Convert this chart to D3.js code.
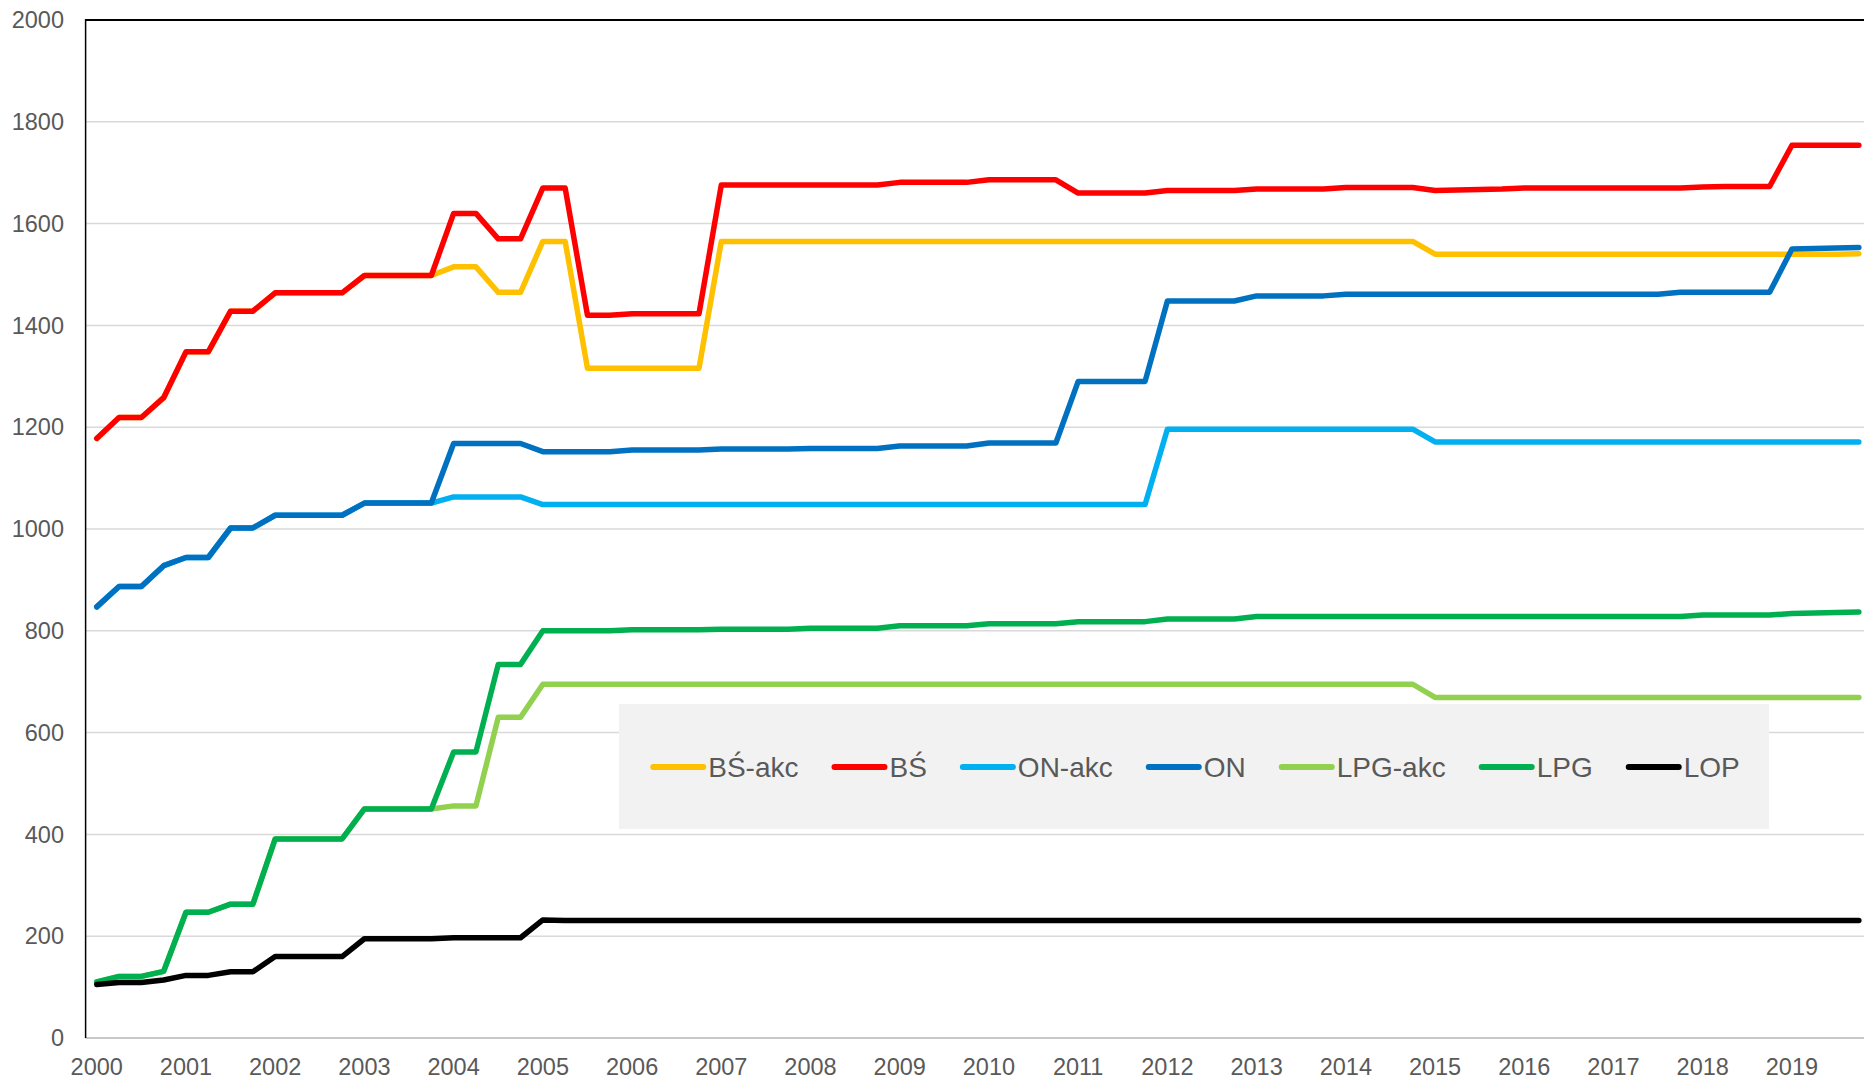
<!DOCTYPE html>
<html>

<head>
    <meta charset="utf-8">
    <title>Ceny paliw</title>
    <script type="text/javascript" src="https://cdn.jsdelivr.net/npm/d3@7"></script>
    <style>
        body { margin: 0; background: #ffffff; }
        text { font-family: "Liberation Sans", Arial, sans-serif; fill: #595959; }
    </style>
</head>

<body>
    <script type="text/javascript">
    /* dane */
    var years = ["2000", "2001", "2002", "2003", "2004", "2005", "2006", "2007", "2008", "2009",
        "2010", "2011", "2012", "2013", "2014", "2015", "2016", "2017", "2018", "2019"];
    var quarters = ["I", "II", "III", "IV"];
    var yTicks = [0, 200, 400, 600, 800, 1000, 1200, 1400, 1600, 1800, 2000];

    var seriesNames = ["BŚ-akc", "BŚ", "ON-akc", "ON", "LPG-akc", "LPG", "LOP"];
    var seriesColors = ["#FFC000", "#FF0000", "#00B0F0", "#0070C0", "#92D050", "#00B050", "#000000"];

    var bsAkc = [1178, 1219, 1219, 1258, 1348, 1348, 1428, 1428, 1464, 1464, 1464, 1464, 1498, 1498, 1498, 1498,
        1515, 1515, 1465, 1465, 1565, 1565, 1316, 1316, 1316, 1316, 1316, 1316, 1565, 1565, 1565, 1565,
        1565, 1565, 1565, 1565, 1565, 1565, 1565, 1565, 1565, 1565, 1565, 1565, 1565, 1565, 1565, 1565,
        1565, 1565, 1565, 1565, 1565, 1565, 1565, 1565, 1565, 1565, 1565, 1565, 1540, 1540, 1540, 1540,
        1540, 1540, 1540, 1540, 1540, 1540, 1540, 1540, 1540, 1540, 1540, 1540, 1540, 1540, 1540, 1541];
    var bs = [1178, 1219, 1219, 1258, 1348, 1348, 1428, 1428, 1464, 1464, 1464, 1464, 1498, 1498, 1498, 1498,
        1620, 1620, 1570, 1570, 1670, 1670, 1420, 1420, 1423, 1423, 1423, 1423, 1676, 1676, 1676, 1676,
        1676, 1676, 1676, 1676, 1681, 1681, 1681, 1681, 1686, 1686, 1686, 1686, 1660, 1660, 1660, 1660,
        1665, 1665, 1665, 1665, 1668, 1668, 1668, 1668, 1671, 1671, 1671, 1671, 1665, 1666, 1667, 1668,
        1670, 1670, 1670, 1670, 1670, 1670, 1670, 1670, 1672, 1673, 1673, 1673, 1754, 1754, 1754, 1754];
    var onAkc = [847, 887, 887, 928, 944, 944, 1002, 1002, 1027, 1027, 1027, 1027, 1051, 1051, 1051, 1051,
        1063, 1063, 1063, 1063, 1048, 1048, 1048, 1048, 1048, 1048, 1048, 1048, 1048, 1048, 1048, 1048,
        1048, 1048, 1048, 1048, 1048, 1048, 1048, 1048, 1048, 1048, 1048, 1048, 1048, 1048, 1048, 1048,
        1196, 1196, 1196, 1196, 1196, 1196, 1196, 1196, 1196, 1196, 1196, 1196, 1171, 1171, 1171, 1171,
        1171, 1171, 1171, 1171, 1171, 1171, 1171, 1171, 1171, 1171, 1171, 1171, 1171, 1171, 1171, 1171];
    var on = [847, 887, 887, 928, 944, 944, 1002, 1002, 1027, 1027, 1027, 1027, 1051, 1051, 1051, 1051,
        1168, 1168, 1168, 1168, 1152, 1152, 1152, 1152, 1155, 1155, 1155, 1155, 1157, 1157, 1157, 1157,
        1158, 1158, 1158, 1158, 1163, 1163, 1163, 1163, 1169, 1169, 1169, 1169, 1290, 1290, 1290, 1290,
        1448, 1448, 1448, 1448, 1458, 1458, 1458, 1458, 1461, 1461, 1461, 1461, 1461, 1461, 1461, 1461,
        1461, 1461, 1461, 1461, 1461, 1461, 1461, 1465, 1465, 1465, 1465, 1465, 1550, 1551, 1552, 1553];
    var lpgAkc = [110, 121, 121, 131, 247, 247, 263, 263, 391, 391, 391, 391, 450, 450, 450, 450,
        456, 456, 630, 630, 695, 695, 695, 695, 695, 695, 695, 695, 695, 695, 695, 695,
        695, 695, 695, 695, 695, 695, 695, 695, 695, 695, 695, 695, 695, 695, 695, 695,
        695, 695, 695, 695, 695, 695, 695, 695, 695, 695, 695, 695, 669, 669, 669, 669,
        669, 669, 669, 669, 669, 669, 669, 669, 669, 669, 669, 669, 669, 669, 669, 669];
    var lpg = [110, 121, 121, 131, 247, 247, 263, 263, 391, 391, 391, 391, 450, 450, 450, 450,
        562, 562, 734, 734, 800, 800, 800, 800, 802, 802, 802, 802, 803, 803, 803, 803,
        805, 805, 805, 805, 810, 810, 810, 810, 814, 814, 814, 814, 818, 818, 818, 818,
        823, 823, 823, 823, 828, 828, 828, 828, 828, 828, 828, 828, 828, 828, 828, 828,
        828, 828, 828, 828, 828, 828, 828, 828, 831, 831, 831, 831, 834, 835, 836, 837];
    var lop = [105, 109, 109, 114, 123, 123, 130, 130, 160, 160, 160, 160, 195, 195, 195, 195,
        197, 197, 197, 197, 232, 231, 231, 231, 231, 231, 231, 231, 231, 231, 231, 231,
        231, 231, 231, 231, 231, 231, 231, 231, 231, 231, 231, 231, 231, 231, 231, 231,
        231, 231, 231, 231, 231, 231, 231, 231, 231, 231, 231, 231, 231, 231, 231, 231,
        231, 231, 231, 231, 231, 231, 231, 231, 231, 231, 231, 231, 231, 231, 231, 231];

    var seriesValues = [bsAkc, bs, onAkc, on, lpgAkc, lpg, lop];

    /* kategorie: kwartaly */
    var categories = [];
    years.forEach(function(y) {
        quarters.forEach(function(q) {
            categories.push(y + " " + q);
        });
    });

    var svgWidth = 1864;
    var svgHeight = 1081;
    var plotLeft = 85.6;
    var plotRight = 1870;
    var plotTop = 20;
    var plotBottom = 1038;

    var svg = d3.select('body').append('svg')
        .attr('width', svgWidth)
        .attr('height', svgHeight);

    var x = d3.scalePoint()
        .domain(categories)
        .range([plotLeft, plotRight])
        .padding(0.5);

    var y = d3.scaleLinear()
        .domain([0, 2000])
        .range([plotBottom, plotTop]);

    /* siatka */
    svg.append('g')
        .selectAll('line')
        .data(yTicks.filter(function(d) { return d > 0 && d < 2000; }))
        .enter()
        .append('line')
        .attr('x1', plotLeft)
        .attr('x2', plotRight)
        .attr('y1', function(d) { return y(d); })
        .attr('y2', function(d) { return y(d); })
        .attr('stroke', '#d9d9d9')
        .attr('stroke-width', 1.5);

    // os 0 (szara) i gorna ramka (czarna)
    svg.append('line')
        .attr('x1', plotLeft).attr('x2', plotRight)
        .attr('y1', y(0)).attr('y2', y(0))
        .attr('stroke', '#c8c8c8').attr('stroke-width', 2);
    svg.append('line')
        .attr('x1', plotLeft).attr('x2', plotRight)
        .attr('y1', y(2000)).attr('y2', y(2000))
        .attr('stroke', '#000000').attr('stroke-width', 2);
    svg.append('line')
        .attr('x1', plotLeft).attr('x2', plotLeft)
        .attr('y1', y(2000) - 1).attr('y2', y(0))
        .attr('stroke', '#000000').attr('stroke-width', 1.5);

    /* etykiety osi Y */
    svg.append('g')
        .selectAll('text')
        .data(yTicks)
        .enter()
        .append('text')
        .text(function(d) { return d; })
        .attr('x', 64)
        .attr('y', function(d) { return y(d); })
        .attr('dy', '0.35em')
        .attr('text-anchor', 'end')
        .attr('font-size', '23.5px');

    /* etykiety osi X (pierwszy kwartal roku) */
    svg.append('g')
        .selectAll('text')
        .data(years)
        .enter()
        .append('text')
        .text(function(d) { return d; })
        .attr('x', function(d) { return x(d + " " + quarters[0]); })
        .attr('y', 1074.5)
        .attr('text-anchor', 'middle')
        .attr('font-size', '23.5px');

    /* linie */
    var line = d3.line()
        .x(function(d, i) { return x(categories[i]); })
        .y(function(d) { return y(d); });

    svg.append('g')
        .selectAll('path')
        .data(seriesValues)
        .enter()
        .append('path')
        .attr('d', function(d) { return line(d); })
        .attr('fill', 'none')
        .attr('stroke', function(d, i) { return seriesColors[i]; })
        .attr('stroke-width', 5.5)
        .attr('stroke-linejoin', 'round')
        .attr('stroke-linecap', 'round');

    /* legenda */
    var legX = 619, legY = 704, legW = 1150, legH = 125;
    svg.append('rect')
        .attr('x', legX).attr('y', legY)
        .attr('width', legW).attr('height', legH)
        .attr('fill', '#f2f2f2');

    var legend = svg.append('g');
    var cursor = 0;
    var sampleLen = 56;
    var itemGap = 33;
    var midY = legY + legH / 2 + 0.5;
    seriesNames.forEach(function(name, i) {
        var item = legend.append('g');
        item.append('line')
            .attr('x1', cursor + 3).attr('x2', cursor + sampleLen - 3)
            .attr('y1', midY).attr('y2', midY)
            .attr('stroke', seriesColors[i])
            .attr('stroke-width', 6)
            .attr('stroke-linecap', 'round');
        var t = item.append('text')
            .text(name)
            .attr('x', cursor + sampleLen + 2)
            .attr('y', midY)
            .attr('dy', '0.35em')
            .attr('font-size', '28px');
        cursor += sampleLen + 2 + t.node().getComputedTextLength() + itemGap;
    });
    var legTotal = cursor - itemGap;
    legend.attr('transform', 'translate(' + (legX + (legW - legTotal) / 2 + 1) + ',0)');
    </script>
</body>

</html>
